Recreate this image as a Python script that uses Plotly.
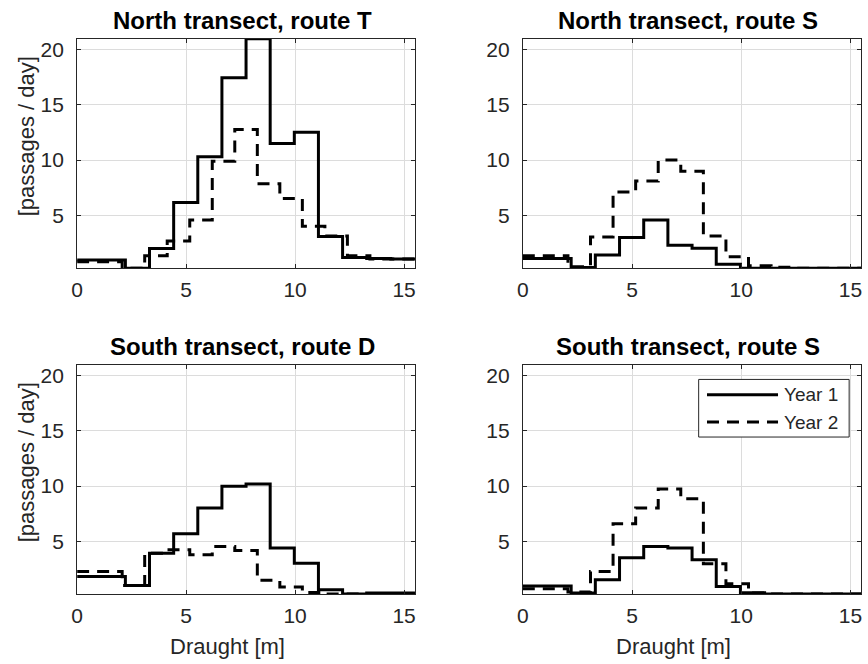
import plotly.graph_objects as go

# Bin edges (m) for each survey year
edges_year1 = [0, 1.107, 2.214, 3.321, 4.429, 5.536, 6.643, 7.75, 8.857,
               9.964, 11.071, 12.179, 13.286, 14.393, 15.5]
edges_year2 = [0, 1.033, 2.067, 3.1, 4.133, 5.167, 6.2, 7.233, 8.267, 9.3,
               10.333, 11.367, 12.4, 13.433, 14.467, 15.5]

# Passages per day in each draught bin
north_T_year1 = [0.95, 0.95, 0.2, 2.0, 6.15, 10.3, 17.45, 21.0, 11.5, 12.53, 3.07, 1.17, 1.08, 1.05]
north_T_year2 = [0.8, 0.8, 0.2, 1.33, 2.68, 4.58, 9.9, 12.77, 7.86, 6.53, 4.0, 3.13, 1.33, 1.05, 1.05]
north_S_year1 = [1.08, 1.08, 0.27, 1.41, 2.98, 4.58, 2.29, 2.02, 0.57, 0.2, 0.2, 0.2, 0.2, 0.2]
north_S_year2 = [1.33, 1.33, 0.35, 3.04, 7.1, 8.1, 10.0, 9.0, 3.13, 1.24, 0.42, 0.3, 0.2, 0.2, 0.2]
south_D_year1 = [1.8, 1.8, 0.99, 3.91, 5.67, 8.02, 9.98, 10.19, 4.37, 3.0, 0.6, 0.2, 0.3, 0.3]
south_D_year2 = [2.26, 2.26, 0.99, 3.91, 4.22, 3.77, 4.52, 4.16, 1.45, 0.85, 0.35, 0.2, 0.2, 0.2, 0.2]
south_S_year1 = [0.93, 0.93, 0.29, 1.5, 3.5, 4.52, 4.37, 3.32, 0.9, 0.33, 0.2, 0.2, 0.2, 0.2]
south_S_year2 = [0.69, 0.69, 0.38, 2.26, 6.57, 8.02, 9.74, 8.84, 2.95, 1.14, 0.3, 0.2, 0.2, 0.2, 0.2]

panel_titles = ["North transect, route T", "North transect, route S",
                "South transect, route D", "South transect, route S"]
series_names = ["Year 1", "Year 2"]
x_ticks = [0, 5, 10, 15]
y_ticks = [5, 10, 15, 20]

panels = [
    (north_T_year1, north_T_year2),
    (north_S_year1, north_S_year2),
    (south_D_year1, south_D_year2),
    (south_S_year1, south_S_year2),
]

W, H = 868, 664
# panel frames in pixels: (left, right, top, bottom)
frames = [
    (71.7, 412.3, 37.7, 267.7),
    (521.0, 862.3, 37.7, 267.7),
    (71.7, 412.3, 364.3, 594.0),
    (521.0, 862.3, 364.3, 594.0),
]

FONT = "Liberation Sans, Arial, sans-serif"
INK = "#262626"
DASH = "12px,8px"


def stairs(edges, values):
    # left edge of every bin plus the closing right edge, drawn with 'hv' steps
    return list(edges), list(values) + [values[-1]]


fig = go.Figure()

for i, ((v1, v2), (l, r, t, b)) in enumerate(zip(panels, frames)):
    n = i + 1
    xa = "x" if n == 1 else f"x{n}"
    ya = "y" if n == 1 else f"y{n}"
    for vals, edges, dash in ((v2, edges_year2, DASH), (v1, edges_year1, "solid")):
        xs, ys = stairs(edges, vals)
        fig.add_trace(go.Scatter(
            x=xs, y=ys, mode="lines", line_shape="hv",
            line=dict(color="black", width=3, dash=dash),
            xaxis=xa, yaxis=ya, showlegend=False, hoverinfo="skip"))

    xkey = "xaxis" if n == 1 else f"xaxis{n}"
    ykey = "yaxis" if n == 1 else f"yaxis{n}"
    axis_common = dict(
        showline=True, linecolor=INK, linewidth=1, mirror="ticks",
        ticks="inside", ticklen=4, tickcolor=INK, tickwidth=1,
        showgrid=True, gridcolor="#dcdcdc", gridwidth=1, zeroline=False,
        tickfont=dict(family=FONT, size=21, color=INK), fixedrange=True,
    )
    fig.layout[xkey] = dict(
        axis_common, domain=[l / W, r / W], range=[0, 15.5],
        tickvals=x_ticks, ticktext=[str(v) for v in x_ticks],
        anchor=ya, ticklabelstandoff=3)
    fig.layout[ykey] = dict(
        axis_common, domain=[1 - b / H, 1 - t / H], range=[0.2, 21.0],
        tickvals=y_ticks, ticktext=[str(v) for v in y_ticks],
        anchor=xa, ticklabelstandoff=8)

    # panel title
    fig.add_annotation(
        x=((l + r) / 2 - 4) / W, y=1 - (t - 3) / H, xref="paper", yref="paper",
        text=f"<b>{panel_titles[i]}</b>", showarrow=False,
        xanchor="center", yanchor="bottom",
        font=dict(family=FONT, size=24, color="black"))

# y-axis labels on the left column
for (l, r, t, b) in (frames[0], frames[2]):
    fig.add_annotation(
        x=21 / W, y=1 - ((t + b) / 2 - 17) / H, xref="paper", yref="paper",
        text="[passages / day]", textangle=-90, showarrow=False,
        xanchor="center", yanchor="middle",
        font=dict(family=FONT, size=22, color=INK))

# x-axis labels on the bottom row
for (l, r, t, b) in (frames[2], frames[3]):
    fig.add_annotation(
        x=((l + r) / 2 - 19) / W, y=1 - 646 / H, xref="paper", yref="paper",
        text="Draught [m]", showarrow=False,
        xanchor="center", yanchor="middle",
        font=dict(family=FONT, size=22, color=INK))

# legend box inside the last panel
lg_l, lg_r, lg_t, lg_b = 698.3, 850.0, 379.0, 436.7
fig.add_shape(type="rect", xref="paper", yref="paper",
              x0=lg_l / W, x1=lg_r / W, y0=1 - lg_b / H, y1=1 - lg_t / H,
              line=dict(color=INK, width=1), fillcolor="white", layer="above")
for name, yy, dash in ((series_names[0], 394.3, "solid"), (series_names[1], 421.7, DASH)):
    fig.add_shape(type="line", xref="paper", yref="paper",
                  x0=706.7 / W, x1=778.3 / W, y0=1 - yy / H, y1=1 - yy / H,
                  line=dict(color="black", width=3, dash=dash), layer="above")
    fig.add_annotation(
        x=782 / W, y=1 - yy / H, xref="paper", yref="paper", text=name,
        showarrow=False, xanchor="left", yanchor="middle",
        font=dict(family=FONT, size=19, color=INK))

fig.update_layout(
    width=W, height=H, margin=dict(l=0, r=0, t=0, b=0),
    paper_bgcolor="white", plot_bgcolor="white", showlegend=False,
)

fig.write_html("out.html")
